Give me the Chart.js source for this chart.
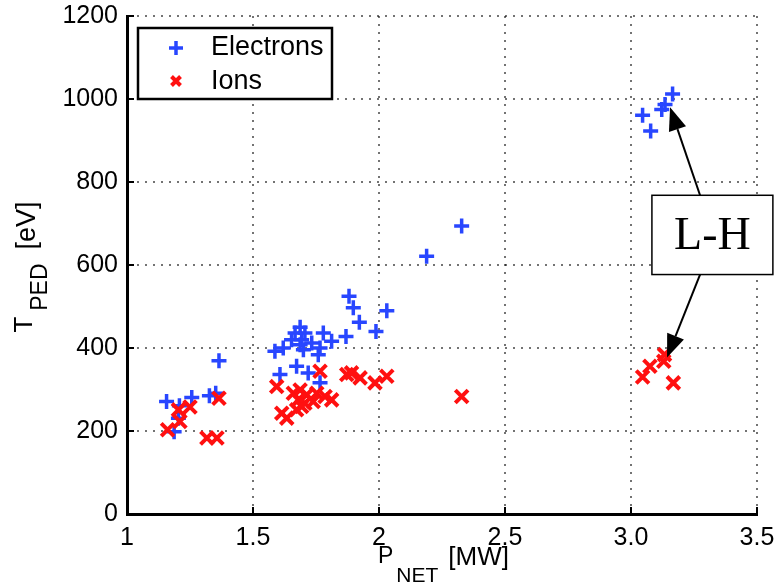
<!DOCTYPE html>
<html>
<head>
<meta charset="utf-8">
<script src="https://cdn.jsdelivr.net/npm/chart.js@4/dist/chart.umd.min.js"></script>
<style>
  html, body { margin: 0; padding: 0; background: #fff; }
  #chart { display: block; }
</style>
</head>
<body>
<canvas id="chart" width="778" height="584"></canvas>
<script>
// Pedestal temperature vs. net heating power
const electronPower = [1.157, 1.187, 1.204, 1.208, 1.257, 1.327, 1.352, 1.365,
  1.607, 1.587, 1.620, 1.653, 1.667, 1.687, 1.706, 1.693, 1.687, 1.700, 1.673, 1.719,
  1.733, 1.766, 1.759, 1.779, 1.812, 1.766, 1.869, 1.881, 1.898, 1.922, 1.988, 2.031,
  2.189, 2.328,
  3.046, 3.078, 3.122, 3.135, 3.165];
const electronTemp = [271, 198, 231, 261, 281, 285, 291, 369,
  336, 392, 400, 420, 436, 450, 436, 420, 408, 396, 356, 340,
  412, 400, 384, 436, 416, 316, 428, 525, 497, 462, 440, 490,
  621, 694,
  961, 923, 975, 987, 1012];

const ionPower = [1.161, 1.204, 1.210, 1.250, 1.317, 1.357, 1.365,
  1.594, 1.614, 1.634, 1.660, 1.687, 1.713, 1.753, 1.786, 1.812, 1.680, 1.706, 1.739,
  1.673, 1.693, 1.766, 1.872, 1.891, 1.925, 1.984, 2.031,
  2.328,
  3.046, 3.075, 3.130, 3.133, 3.168];
const ionTemp = [203, 251, 223, 258, 183, 183, 279,
  307, 243, 231, 291, 299, 287, 291, 283, 275, 275, 267, 271,
  251, 259, 344, 336, 340, 328, 316, 332,
  283,
  330, 356, 368, 384, 316];

const seriesLabels = ['Electrons', 'Ions'];
const powerTicks = [1, 1.5, 2, 2.5, 3, 3.5];
const powerTickLabels = ['1', '1.5', '2', '2.5', '3.0', '3.5'];
const tempTicks = [0, 200, 400, 600, 800, 1000, 1200];
const tempTickLabels = ['0', '200', '400', '600', '800', '1000', '1200'];
const transitionLabel = 'L-H';

const BLUE = '#2846ff';
const RED = '#ff1010';
const SANS = "'Liberation Sans', Arial, Helvetica, sans-serif";

// callout box and arrows, placed in data units
const callout = {
  box: { x0: 3.083, x1: 3.563, y0: 577, y1: 768 },
  arrows: [
    { from: [3.274, 768], to: [3.155, 980] },
    { from: [3.274, 577], to: [3.143, 377] }
  ]
};

Chart.defaults.font.family = SANS;
Chart.defaults.color = '#000';

const toPoints = (xs, ys) => xs.map((x, i) => ({ x: x, y: ys[i] }));

// text with a subscript, laid out left to right from x
const drawSubText = (ctx, parts, x, y) => {
  let cx = x;
  parts.forEach(p => {
    ctx.font = p.size + 'px ' + SANS;
    ctx.fillText(p.text, cx, y + p.dy);
    cx += ctx.measureText(p.text).width + (p.gap || 0);
  });
};
const measureParts = (ctx, parts) => parts.reduce((w, p) => {
  ctx.font = p.size + 'px ' + SANS;
  return w + ctx.measureText(p.text).width + (p.gap || 0);
}, 0);

const arrow = (ctx, x1, y1, x2, y2) => {
  const ang = Math.atan2(y2 - y1, x2 - x1);
  const len = 23, half = 9;
  const bx = x2 - Math.cos(ang) * len, by = y2 - Math.sin(ang) * len;
  ctx.beginPath();
  ctx.moveTo(x1, y1);
  ctx.lineTo(bx, by);
  ctx.stroke();
  ctx.beginPath();
  ctx.moveTo(x2, y2);
  ctx.lineTo(bx + Math.sin(ang) * half, by - Math.cos(ang) * half);
  ctx.lineTo(bx - Math.sin(ang) * half, by + Math.cos(ang) * half);
  ctx.closePath();
  ctx.fill();
};

const decorations = {
  id: 'decorations',
  afterDraw(chart) {
    const { ctx, chartArea: area, scales: { x, y } } = chart;
    ctx.save();

    // inward tick marks
    ctx.strokeStyle = '#000';
    ctx.lineWidth = 2;
    ctx.beginPath();
    tempTicks.forEach(v => {
      const py = Math.round(y.getPixelForValue(v));
      ctx.moveTo(area.left, py);
      ctx.lineTo(area.left + 7, py);
    });
    powerTicks.forEach(v => {
      const px = Math.round(x.getPixelForValue(v));
      ctx.moveTo(px, area.bottom);
      ctx.lineTo(px, area.bottom - 7);
    });
    ctx.stroke();

    // legend
    const lx = area.left + 11, ly = area.top + 12, lw = 194, lh = 71;
    ctx.fillStyle = '#fff';
    ctx.fillRect(lx, ly, lw, lh);
    ctx.lineWidth = 2.5;
    ctx.strokeRect(lx, ly, lw, lh);
    ctx.fillStyle = '#000';
    ctx.font = '27px ' + SANS;
    ctx.textBaseline = 'middle';
    ctx.textAlign = 'left';
    ctx.fillText(seriesLabels[0], lx + 73, ly + 20);
    ctx.fillText(seriesLabels[1], lx + 73, ly + 54);
    ctx.lineWidth = 3.5;
    ctx.strokeStyle = BLUE;
    ctx.beginPath();
    ctx.moveTo(lx + 31, ly + 20); ctx.lineTo(lx + 45, ly + 20);
    ctx.moveTo(lx + 38, ly + 13); ctx.lineTo(lx + 38, ly + 27);
    ctx.stroke();
    ctx.strokeStyle = RED;
    ctx.lineWidth = 4;
    ctx.beginPath();
    ctx.moveTo(lx + 33.5, ly + 48.5); ctx.lineTo(lx + 42.5, ly + 57.5);
    ctx.moveTo(lx + 42.5, ly + 48.5); ctx.lineTo(lx + 33.5, ly + 57.5);
    ctx.stroke();

    // x axis title: P_NET [MW]
    ctx.fillStyle = '#000';
    ctx.textBaseline = 'alphabetic';
    const xParts = [
      { text: 'P', size: 23, dy: 0, gap: 3 },
      { text: 'NET', size: 21, dy: 19, gap: 10 },
      { text: '[MW]', size: 26, dy: 2 }
    ];
    const xw = measureParts(ctx, xParts);
    drawSubText(ctx, xParts, (area.left + area.right) / 2 + 1.5 - xw / 2, area.bottom + 49);

    // y axis title: T_PED [eV]
    const yParts = [
      { text: 'T', size: 26, dy: 0, gap: 6 },
      { text: 'PED', size: 23, dy: 15, gap: 14 },
      { text: '[eV]', size: 27, dy: 3 }
    ];
    const yw = measureParts(ctx, yParts);
    ctx.save();
    ctx.translate(32, (area.top + area.bottom) / 2 + 2);
    ctx.rotate(-Math.PI / 2);
    drawSubText(ctx, yParts, -yw / 2, 0);
    ctx.restore();

    // L-H callout
    const b = callout.box;
    const bx0 = x.getPixelForValue(b.x0), bx1 = x.getPixelForValue(b.x1);
    const by0 = y.getPixelForValue(b.y1), by1 = y.getPixelForValue(b.y0);
    ctx.fillStyle = '#fff';
    ctx.fillRect(bx0, by0, bx1 - bx0, by1 - by0);
    ctx.strokeStyle = '#000';
    ctx.lineWidth = 1.5;
    ctx.strokeRect(bx0, by0, bx1 - bx0, by1 - by0);
    ctx.fillStyle = '#000';
    ctx.font = "46px 'Liberation Serif', 'Times New Roman', serif";
    ctx.textAlign = 'center';
    ctx.textBaseline = 'middle';
    ctx.fillText(transitionLabel, (bx0 + bx1) / 2, (by0 + by1) / 2 + 2);
    ctx.lineWidth = 2;
    callout.arrows.forEach(a => {
      arrow(ctx,
        x.getPixelForValue(a.from[0]), y.getPixelForValue(a.from[1]),
        x.getPixelForValue(a.to[0]), y.getPixelForValue(a.to[1]));
    });

    ctx.restore();
  }
};

const gridStyle = { color: 'rgba(0,0,0,0.55)', lineWidth: 2, drawTicks: false };
const borderStyle = { display: true, color: '#000', width: 3, dash: [2, 6] };

new Chart(document.getElementById('chart'), {
  type: 'scatter',
  data: {
    datasets: [
      {
        label: seriesLabels[0],
        data: toPoints(electronPower, electronTemp),
        pointStyle: 'cross',
        radius: 7.5,
        borderWidth: 3.5,
        borderColor: BLUE,
        backgroundColor: BLUE,
        order: 1
      },
      {
        label: seriesLabels[1],
        data: toPoints(ionPower, ionTemp),
        pointStyle: 'crossRot',
        radius: 9,
        borderWidth: 4,
        borderColor: RED,
        backgroundColor: RED,
        order: 0
      }
    ]
  },
  options: {
    responsive: false,
    animation: false,
    devicePixelRatio: 1,
    layout: { padding: { top: 16, right: 21, left: 0, bottom: 0 } },
    plugins: { legend: { display: false }, tooltip: { enabled: false } },
    scales: {
      x: {
        type: 'linear',
        min: 1,
        max: 3.5,
        afterBuildTicks: s => { s.ticks = powerTicks.map(v => ({ value: v })); },
        afterFit: s => { s.height = 70; s.paddingLeft = 0; s.paddingRight = 0; },
        ticks: {
          font: { size: 25 },
          padding: 9,
          maxRotation: 0,
          callback: (v, i) => powerTickLabels[i]
        },
        grid: gridStyle,
        border: borderStyle
      },
      y: {
        type: 'linear',
        min: 0,
        max: 1200,
        afterBuildTicks: s => { s.ticks = tempTicks.map(v => ({ value: v })); },
        afterFit: s => { s.width = 127; s.paddingTop = 0; s.paddingBottom = 0; },
        ticks: {
          font: { size: 25 },
          padding: 9,
          callback: (v, i) => tempTickLabels[i]
        },
        grid: gridStyle,
        border: borderStyle
      }
    }
  },
  plugins: [decorations]
});
</script>
</body>
</html>
